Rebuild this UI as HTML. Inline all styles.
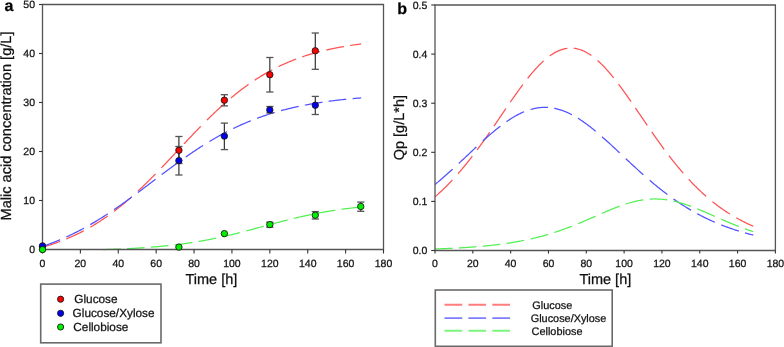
<!DOCTYPE html>
<html><head><meta charset="utf-8"><style>
html,body{margin:0;padding:0;background:#fff;width:784px;height:347px;overflow:hidden}
svg{display:block;will-change:transform}
text{font-family:"Liberation Sans",sans-serif;text-rendering:geometricPrecision;stroke:#111;stroke-width:0.25px}
</style></head><body>
<svg width="784" height="347" viewBox="0 0 784 347">
<rect width="784" height="347" fill="#fff"/>
<path d="M42.50,247.23 L43.35,246.98 L44.20,246.73 L45.05,246.48 L45.90,246.23 L46.75,245.97 L47.60,245.71 L48.45,245.44 L49.30,245.17 L50.15,244.90 L51.00,244.62 L51.85,244.34 L52.70,244.06 L53.55,243.77 L54.40,243.48 L55.25,243.19 L56.10,242.89 L56.95,242.58 L57.79,242.28 L58.64,241.97 L59.49,241.65 L60.13,241.41 M66.29,238.98 L67.14,238.63 L67.99,238.27 L68.84,237.91 L69.69,237.54 L70.54,237.17 L71.39,236.79 L72.24,236.41 L73.09,236.03 L73.94,235.64 L74.79,235.24 L75.64,234.84 L76.49,234.44 L77.34,234.03 L78.19,233.61 L79.04,233.20 L79.89,232.77 L80.74,232.34 L81.59,231.91 L82.44,231.47 L83.29,231.03 L83.92,230.69 M90.30,227.17 L91.15,226.68 L92.00,226.18 L92.85,225.68 L93.70,225.17 L94.55,224.65 L95.40,224.13 L96.24,223.61 L97.09,223.08 L97.94,222.54 L98.79,222.00 L99.64,221.46 L100.49,220.91 L101.34,220.35 L102.19,219.79 L103.04,219.22 L103.89,218.64 L104.74,218.06 L105.59,217.48 L106.44,216.89 L107.29,216.29 L107.72,215.99 M114.09,211.32 L114.94,210.67 L115.79,210.02 L116.64,209.36 L117.49,208.70 L118.34,208.03 L119.19,207.35 L120.04,206.67 L120.89,205.99 L121.74,205.30 L122.59,204.60 L123.44,203.90 L124.29,203.19 L125.14,202.48 L125.99,201.76 L126.83,201.04 L127.68,200.31 L128.53,199.58 L129.38,198.84 L130.23,198.10 L131.08,197.35 L131.72,196.79 M137.88,191.19 L138.73,190.40 L139.58,189.60 L140.43,188.80 L141.28,188.00 L142.13,187.19 L142.98,186.38 L143.83,185.56 L144.68,184.74 L145.53,183.91 L146.38,183.08 L147.23,182.25 L148.08,181.41 L148.93,180.57 L149.78,179.73 L150.63,178.88 L151.48,178.03 L152.33,177.17 L153.18,176.32 L154.03,175.46 L154.88,174.59 L155.51,173.94 M161.46,167.80 L162.31,166.91 L163.16,166.03 L164.01,165.13 L164.86,164.24 L165.71,163.35 L166.56,162.45 L167.41,161.55 L168.26,160.65 L169.11,159.75 L169.96,158.85 L170.81,157.95 L171.66,157.05 L172.51,156.14 L173.36,155.24 L174.21,154.33 L175.06,153.42 L175.91,152.52 L176.76,151.61 L177.61,150.70 L178.03,150.25 M183.98,143.91 L184.83,143.00 L185.68,142.10 L186.53,141.20 L187.38,140.30 L188.23,139.40 L189.08,138.50 L189.93,137.60 L190.78,136.71 L191.63,135.81 L192.48,134.92 L193.33,134.03 L194.18,133.14 L195.03,132.26 L195.87,131.37 L196.72,130.49 L197.57,129.62 L198.42,128.74 L199.27,127.87 L200.12,127.00 L200.76,126.34 M206.92,120.14 L207.77,119.30 L208.62,118.47 L209.47,117.63 L210.32,116.80 L211.17,115.97 L212.02,115.15 L212.87,114.34 L213.72,113.52 L214.57,112.71 L215.42,111.91 L216.27,111.11 L217.12,110.31 L217.97,109.52 L218.82,108.73 L219.67,107.95 L220.52,107.17 L221.37,106.39 L222.22,105.63 L223.07,104.86 L223.92,104.10 L224.55,103.54 M230.93,98.03 L231.78,97.32 L232.63,96.61 L233.47,95.91 L234.32,95.22 L235.17,94.53 L236.02,93.84 L236.87,93.16 L237.72,92.49 L238.57,91.82 L239.42,91.16 L240.27,90.50 L241.12,89.85 L241.97,89.20 L242.82,88.56 L243.67,87.93 L244.52,87.30 L245.37,86.67 L246.22,86.06 L247.07,85.44 L247.92,84.84 L248.56,84.38 M254.72,80.18 L255.57,79.62 L256.42,79.07 L257.27,78.52 L258.12,77.98 L258.97,77.45 L259.82,76.92 L260.67,76.40 L261.52,75.88 L262.37,75.36 L263.22,74.86 L264.06,74.35 L264.91,73.86 L265.76,73.36 L266.61,72.88 L267.46,72.40 L268.31,71.92 L269.16,71.45 L270.01,70.99 L270.86,70.52 L271.71,70.07 L272.35,69.73 M278.51,66.61 L279.36,66.20 L280.21,65.80 L281.06,65.40 L281.91,65.00 L282.76,64.61 L283.61,64.22 L284.46,63.84 L285.31,63.47 L286.16,63.10 L287.01,62.73 L287.86,62.36 L288.71,62.01 L289.56,61.65 L290.41,61.30 L291.26,60.96 L292.11,60.62 L292.96,60.28 L293.81,59.95 L294.65,59.62 L295.50,59.29 L296.14,59.05 M302.30,56.85 L303.15,56.56 L304.00,56.28 L304.85,55.99 L305.70,55.72 L306.55,55.44 L307.40,55.18 L308.25,54.91 L309.10,54.65 L309.95,54.39 L310.80,54.13 L311.65,53.88 L312.50,53.63 L313.35,53.39 L314.20,53.14 L315.05,52.91 L315.90,52.67 L316.75,52.44 L317.60,52.21 L318.45,51.98 L319.30,51.76 L319.93,51.60 M326.31,50.04 L327.16,49.84 L328.01,49.65 L328.86,49.46 L329.71,49.27 L330.56,49.09 L331.41,48.91 L332.26,48.73 L333.10,48.55 L333.95,48.38 L334.80,48.21 L335.65,48.04 L336.50,47.87 L337.35,47.70 L338.20,47.54 L339.05,47.38 L339.90,47.22 L340.75,47.07 L341.60,46.92 L342.45,46.77 L343.30,46.62 L343.94,46.51 M350.10,45.50 L350.95,45.37 L351.80,45.25 L352.65,45.12 L353.50,45.00 L354.35,44.87 L355.20,44.75 L356.05,44.63 L356.90,44.52 L357.75,44.40 L358.60,44.29 L359.45,44.17 L360.30,44.06 L361.15,43.95" fill="none" stroke="#ff5252" stroke-width="1.25"/>
<path d="M42.50,246.48 L43.35,246.19 L44.20,245.89 L45.05,245.59 L45.90,245.29 L46.75,244.98 L47.60,244.67 L48.45,244.36 L49.30,244.04 L50.15,243.72 L51.00,243.40 L51.85,243.07 L52.70,242.74 L53.55,242.40 L54.40,242.07 L55.25,241.73 L56.10,241.38 L56.95,241.04 L57.79,240.69 L58.64,240.33 L59.49,239.97 L60.13,239.70 M66.29,236.99 L67.14,236.60 L67.99,236.21 L68.84,235.81 L69.69,235.41 L70.54,235.00 L71.39,234.60 L72.24,234.19 L73.09,233.77 L73.94,233.35 L74.79,232.93 L75.64,232.51 L76.49,232.08 L77.34,231.64 L78.19,231.21 L79.04,230.77 L79.89,230.33 L80.74,229.88 L81.59,229.43 L82.44,228.97 L83.29,228.52 L83.92,228.17 M90.30,224.60 L91.15,224.11 L92.00,223.62 L92.85,223.12 L93.70,222.62 L94.55,222.12 L95.40,221.61 L96.24,221.10 L97.09,220.58 L97.94,220.06 L98.79,219.54 L99.64,219.02 L100.49,218.49 L101.34,217.96 L102.19,217.42 L103.04,216.89 L103.89,216.35 L104.74,215.80 L105.59,215.25 L106.44,214.70 L107.29,214.15 L107.72,213.87 M114.09,209.62 L114.94,209.04 L115.79,208.46 L116.64,207.88 L117.49,207.29 L118.34,206.70 L119.19,206.11 L120.04,205.52 L120.89,204.92 L121.74,204.32 L122.59,203.72 L123.44,203.12 L124.29,202.51 L125.14,201.90 L125.99,201.29 L126.83,200.68 L127.68,200.07 L128.53,199.45 L129.38,198.83 L130.23,198.21 L131.08,197.59 L131.72,197.13 M137.88,192.57 L138.73,191.94 L139.58,191.30 L140.43,190.67 L141.28,190.03 L142.13,189.39 L142.98,188.75 L143.83,188.11 L144.68,187.47 L145.53,186.83 L146.38,186.19 L147.23,185.55 L148.08,184.91 L148.93,184.26 L149.78,183.62 L150.63,182.98 L151.48,182.33 L152.33,181.69 L153.18,181.05 L154.03,180.40 L154.88,179.76 L155.51,179.28 M161.67,174.62 L162.52,173.98 L163.37,173.34 L164.22,172.70 L165.07,172.07 L165.92,171.43 L166.77,170.80 L167.62,170.16 L168.47,169.53 L169.32,168.90 L170.17,168.27 L171.02,167.64 L171.87,167.01 L172.72,166.39 L173.57,165.76 L174.42,165.14 L175.27,164.52 L176.12,163.90 L176.97,163.28 L177.82,162.66 L178.67,162.05 L179.31,161.59 M185.68,157.06 L186.53,156.47 L187.38,155.88 L188.23,155.29 L189.08,154.70 L189.93,154.12 L190.78,153.54 L191.63,152.96 L192.48,152.38 L193.33,151.81 L194.18,151.24 L195.03,150.67 L195.87,150.11 L196.72,149.55 L197.57,148.99 L198.42,148.43 L199.27,147.88 L200.12,147.33 L200.97,146.78 L201.82,146.24 L202.67,145.70 L203.10,145.43 M209.47,141.49 L210.32,140.98 L211.17,140.47 L212.02,139.97 L212.87,139.47 L213.72,138.97 L214.57,138.48 L215.42,137.99 L216.27,137.50 L217.12,137.02 L217.97,136.54 L218.82,136.06 L219.67,135.59 L220.52,135.12 L221.37,134.66 L222.22,134.19 L223.07,133.74 L223.92,133.28 L224.77,132.83 L225.61,132.38 L226.46,131.94 L227.10,131.61 M233.26,128.52 L234.11,128.11 L234.96,127.70 L235.81,127.29 L236.66,126.89 L237.51,126.50 L238.36,126.10 L239.21,125.71 L240.06,125.33 L240.91,124.94 L241.76,124.57 L242.61,124.19 L243.46,123.82 L244.31,123.45 L245.16,123.08 L246.01,122.72 L246.86,122.36 L247.71,122.01 L248.56,121.66 L249.41,121.31 L250.26,120.97 L250.89,120.71 M257.05,118.33 L257.90,118.02 L258.75,117.71 L259.60,117.40 L260.45,117.10 L261.30,116.80 L262.15,116.50 L263.00,116.20 L263.85,115.91 L264.70,115.62 L265.55,115.34 L266.40,115.06 L267.25,114.78 L268.10,114.50 L268.95,114.23 L269.80,113.96 L270.65,113.69 L271.50,113.43 L272.35,113.17 L273.20,112.91 L274.05,112.65 L274.69,112.46 M281.06,110.65 L281.91,110.42 L282.76,110.20 L283.61,109.97 L284.46,109.75 L285.31,109.53 L286.16,109.32 L287.01,109.10 L287.86,108.89 L288.71,108.68 L289.56,108.48 L290.41,108.27 L291.26,108.07 L292.11,107.87 L292.96,107.68 L293.81,107.48 L294.65,107.29 L295.50,107.10 L296.35,106.91 L297.20,106.73 L298.05,106.55 L298.69,106.41 M304.85,105.16 L305.70,105.00 L306.55,104.84 L307.40,104.68 L308.25,104.52 L309.10,104.37 L309.95,104.22 L310.80,104.06 L311.65,103.91 L312.50,103.77 L313.35,103.62 L314.20,103.48 L315.05,103.34 L315.90,103.20 L316.75,103.06 L317.60,102.92 L318.45,102.79 L319.30,102.65 L320.15,102.52 L321.00,102.39 L321.85,102.27 L322.48,102.17 M328.64,101.30 L329.49,101.19 L330.34,101.08 L331.19,100.96 L332.04,100.86 L332.89,100.75 L333.74,100.64 L334.59,100.54 L335.44,100.43 L336.29,100.33 L337.14,100.23 L337.99,100.13 L338.84,100.03 L339.69,99.94 L340.54,99.84 L341.39,99.75 L342.24,99.65 L343.09,99.56 L343.94,99.47 L344.79,99.38 L345.64,99.29 L346.28,99.23 M352.65,98.61 L353.50,98.53 L354.35,98.46 L355.20,98.38 L356.05,98.31 L356.90,98.23 L357.75,98.16 L358.60,98.09 L359.45,98.02 L360.30,97.95 L361.15,97.88" fill="none" stroke="#5252ff" stroke-width="1.25"/>
<path d="M103.12,249.50 L103.98,249.50 L104.84,249.50 L105.70,249.50 L106.56,249.48 L107.42,249.46 L108.28,249.43 L109.14,249.40 L110.00,249.37 L110.86,249.34 L111.72,249.31 L112.58,249.28 L113.44,249.25 L114.30,249.22 L115.16,249.18 L116.02,249.15 L116.88,249.12 L117.74,249.08 L118.60,249.05 L119.46,249.01 L120.32,248.98 L120.75,248.96 M126.99,248.67 L127.85,248.63 L128.71,248.59 L129.57,248.54 L130.43,248.50 L131.29,248.46 L132.15,248.41 L133.01,248.36 L133.87,248.32 L134.73,248.27 L135.59,248.22 L136.45,248.17 L137.31,248.12 L138.17,248.07 L139.03,248.01 L139.89,247.96 L140.75,247.91 L141.61,247.85 L142.47,247.79 L143.33,247.74 L144.19,247.68 L144.62,247.65 M150.86,247.20 L151.72,247.13 L152.58,247.06 L153.44,246.99 L154.30,246.92 L155.16,246.85 L156.02,246.78 L156.88,246.70 L157.74,246.63 L158.60,246.55 L159.46,246.48 L160.32,246.40 L161.18,246.32 L162.04,246.24 L162.90,246.16 L163.76,246.07 L164.62,245.99 L165.48,245.90 L166.34,245.81 L167.20,245.73 L168.06,245.64 L168.49,245.59 M174.72,244.89 L175.58,244.79 L176.44,244.69 L177.30,244.58 L178.16,244.47 L179.02,244.37 L179.88,244.26 L180.74,244.15 L181.60,244.03 L182.46,243.92 L183.32,243.80 L184.18,243.69 L185.04,243.57 L185.90,243.45 L186.76,243.32 L187.62,243.20 L188.48,243.07 L189.35,242.95 L190.21,242.82 L191.07,242.69 L191.93,242.56 L192.36,242.49 M198.59,241.48 L199.45,241.33 L200.31,241.18 L201.17,241.03 L202.03,240.88 L202.89,240.73 L203.75,240.57 L204.61,240.42 L205.47,240.26 L206.33,240.10 L207.19,239.93 L208.05,239.77 L208.91,239.60 L209.77,239.44 L210.63,239.27 L211.49,239.10 L212.35,238.93 L213.21,238.75 L214.07,238.58 L214.93,238.40 L215.79,238.22 L216.22,238.13 M222.46,236.78 L223.32,236.59 L224.18,236.39 L225.04,236.20 L225.90,236.00 L226.76,235.80 L227.62,235.60 L228.48,235.40 L229.34,235.20 L230.20,234.99 L231.06,234.79 L231.92,234.58 L232.78,234.37 L233.64,234.16 L234.50,233.95 L235.36,233.74 L236.22,233.52 L237.08,233.31 L237.94,233.09 L238.80,232.88 L239.66,232.66 L239.87,232.60 M246.33,230.94 L247.19,230.71 L248.05,230.48 L248.91,230.26 L249.77,230.03 L250.63,229.80 L251.49,229.57 L252.35,229.34 L253.21,229.11 L254.07,228.88 L254.93,228.65 L255.79,228.42 L256.65,228.19 L257.51,227.95 L258.37,227.72 L259.23,227.49 L260.09,227.26 L260.95,227.02 L261.81,226.79 L262.67,226.56 L263.53,226.32 L263.74,226.26 M269.98,224.58 L270.84,224.35 L271.70,224.11 L272.56,223.88 L273.42,223.65 L274.28,223.42 L275.14,223.19 L276.00,222.97 L276.86,222.74 L277.72,222.51 L278.58,222.28 L279.44,222.06 L280.30,221.83 L281.16,221.61 L282.02,221.39 L282.88,221.16 L283.74,220.94 L284.60,220.72 L285.46,220.50 L286.32,220.28 L287.18,220.06 L287.61,219.96 M293.84,218.42 L294.70,218.21 L295.56,218.00 L296.42,217.80 L297.28,217.60 L298.14,217.39 L299.00,217.19 L299.87,217.00 L300.73,216.80 L301.59,216.60 L302.45,216.41 L303.31,216.22 L304.17,216.02 L305.03,215.83 L305.89,215.65 L306.75,215.46 L307.61,215.28 L308.47,215.09 L309.33,214.91 L310.19,214.73 L311.05,214.55 L311.48,214.46 M317.71,213.23 L318.57,213.06 L319.43,212.90 L320.29,212.74 L321.15,212.58 L322.01,212.42 L322.87,212.27 L323.73,212.11 L324.59,211.96 L325.45,211.81 L326.31,211.66 L327.17,211.52 L328.03,211.37 L328.89,211.23 L329.75,211.09 L330.61,210.95 L331.47,210.81 L332.33,210.67 L333.19,210.54 L334.05,210.41 L334.91,210.27 L335.34,210.21 M341.58,209.31 L342.44,209.19 L343.30,209.08 L344.16,208.96 L345.02,208.85 L345.88,208.74 L346.74,208.63 L347.60,208.52 L348.46,208.41 L349.32,208.31 L350.18,208.21 L351.04,208.10 L351.90,208.00 L352.76,207.90 L353.62,207.81 L354.48,207.71 L355.34,207.61 L356.20,207.52 L357.06,207.43 L357.92,207.34 L358.78,207.25 L359.21,207.20" fill="none" stroke="#52f052" stroke-width="1.25"/>
<path d="M42.5,4.5 H383.5 V249.5 H42.5 Z" fill="none" stroke="#555" stroke-width="1.3"/>
<line x1="39" y1="249.5" x2="42.5" y2="249.5" stroke="#333" stroke-width="1.1"/>
<text x="35" y="253.3" font-family="Liberation Sans, sans-serif" font-size="10.5" text-anchor="end" fill="#111">0</text>
<line x1="39" y1="200.5" x2="42.5" y2="200.5" stroke="#333" stroke-width="1.1"/>
<text x="35" y="204.3" font-family="Liberation Sans, sans-serif" font-size="10.5" text-anchor="end" fill="#111">10</text>
<line x1="39" y1="151.5" x2="42.5" y2="151.5" stroke="#333" stroke-width="1.1"/>
<text x="35" y="155.3" font-family="Liberation Sans, sans-serif" font-size="10.5" text-anchor="end" fill="#111">20</text>
<line x1="39" y1="102.5" x2="42.5" y2="102.5" stroke="#333" stroke-width="1.1"/>
<text x="35" y="106.3" font-family="Liberation Sans, sans-serif" font-size="10.5" text-anchor="end" fill="#111">30</text>
<line x1="39" y1="53.5" x2="42.5" y2="53.5" stroke="#333" stroke-width="1.1"/>
<text x="35" y="57.3" font-family="Liberation Sans, sans-serif" font-size="10.5" text-anchor="end" fill="#111">40</text>
<line x1="39" y1="4.5" x2="42.5" y2="4.5" stroke="#333" stroke-width="1.1"/>
<text x="35" y="8.3" font-family="Liberation Sans, sans-serif" font-size="10.5" text-anchor="end" fill="#111">50</text>
<line x1="42.50" y1="249.5" x2="42.50" y2="253.5" stroke="#333" stroke-width="1.1"/>
<text x="42.50" y="266.6" font-family="Liberation Sans, sans-serif" font-size="10.5" text-anchor="middle" fill="#111">0</text>
<line x1="80.39" y1="249.5" x2="80.39" y2="253.5" stroke="#333" stroke-width="1.1"/>
<text x="80.39" y="266.6" font-family="Liberation Sans, sans-serif" font-size="10.5" text-anchor="middle" fill="#111">20</text>
<line x1="118.28" y1="249.5" x2="118.28" y2="253.5" stroke="#333" stroke-width="1.1"/>
<text x="118.28" y="266.6" font-family="Liberation Sans, sans-serif" font-size="10.5" text-anchor="middle" fill="#111">40</text>
<line x1="156.17" y1="249.5" x2="156.17" y2="253.5" stroke="#333" stroke-width="1.1"/>
<text x="156.17" y="266.6" font-family="Liberation Sans, sans-serif" font-size="10.5" text-anchor="middle" fill="#111">60</text>
<line x1="194.06" y1="249.5" x2="194.06" y2="253.5" stroke="#333" stroke-width="1.1"/>
<text x="194.06" y="266.6" font-family="Liberation Sans, sans-serif" font-size="10.5" text-anchor="middle" fill="#111">80</text>
<line x1="231.94" y1="249.5" x2="231.94" y2="253.5" stroke="#333" stroke-width="1.1"/>
<text x="231.94" y="266.6" font-family="Liberation Sans, sans-serif" font-size="10.5" text-anchor="middle" fill="#111">100</text>
<line x1="269.83" y1="249.5" x2="269.83" y2="253.5" stroke="#333" stroke-width="1.1"/>
<text x="269.83" y="266.6" font-family="Liberation Sans, sans-serif" font-size="10.5" text-anchor="middle" fill="#111">120</text>
<line x1="307.72" y1="249.5" x2="307.72" y2="253.5" stroke="#333" stroke-width="1.1"/>
<text x="307.72" y="266.6" font-family="Liberation Sans, sans-serif" font-size="10.5" text-anchor="middle" fill="#111">140</text>
<line x1="345.61" y1="249.5" x2="345.61" y2="253.5" stroke="#333" stroke-width="1.1"/>
<text x="345.61" y="266.6" font-family="Liberation Sans, sans-serif" font-size="10.5" text-anchor="middle" fill="#111">160</text>
<line x1="383.50" y1="249.5" x2="383.50" y2="253.5" stroke="#333" stroke-width="1.1"/>
<text x="383.50" y="266.6" font-family="Liberation Sans, sans-serif" font-size="10.5" text-anchor="middle" fill="#111">180</text>
<line x1="178.90" y1="136.50" x2="178.90" y2="163.50" stroke="#333" stroke-width="1.2"/><line x1="175.30" y1="136.50" x2="182.50" y2="136.50" stroke="#555" stroke-width="1.3"/><line x1="175.30" y1="163.50" x2="182.50" y2="163.50" stroke="#555" stroke-width="1.3"/>
<line x1="224.37" y1="94.70" x2="224.37" y2="105.90" stroke="#333" stroke-width="1.2"/><line x1="220.77" y1="94.70" x2="227.97" y2="94.70" stroke="#555" stroke-width="1.3"/><line x1="220.77" y1="105.90" x2="227.97" y2="105.90" stroke="#555" stroke-width="1.3"/>
<line x1="269.83" y1="57.50" x2="269.83" y2="92.00" stroke="#333" stroke-width="1.2"/><line x1="266.23" y1="57.50" x2="273.43" y2="57.50" stroke="#555" stroke-width="1.3"/><line x1="266.23" y1="92.00" x2="273.43" y2="92.00" stroke="#555" stroke-width="1.3"/>
<line x1="315.30" y1="33.00" x2="315.30" y2="69.30" stroke="#333" stroke-width="1.2"/><line x1="311.70" y1="33.00" x2="318.90" y2="33.00" stroke="#555" stroke-width="1.3"/><line x1="311.70" y1="69.30" x2="318.90" y2="69.30" stroke="#555" stroke-width="1.3"/>
<line x1="178.90" y1="146.50" x2="178.90" y2="175.00" stroke="#333" stroke-width="1.2"/><line x1="175.30" y1="146.50" x2="182.50" y2="146.50" stroke="#555" stroke-width="1.3"/><line x1="175.30" y1="175.00" x2="182.50" y2="175.00" stroke="#555" stroke-width="1.3"/>
<line x1="224.37" y1="123.10" x2="224.37" y2="149.60" stroke="#333" stroke-width="1.2"/><line x1="220.77" y1="123.10" x2="227.97" y2="123.10" stroke="#555" stroke-width="1.3"/><line x1="220.77" y1="149.60" x2="227.97" y2="149.60" stroke="#555" stroke-width="1.3"/>
<line x1="269.83" y1="106.50" x2="269.83" y2="113.00" stroke="#333" stroke-width="1.2"/><line x1="266.23" y1="106.50" x2="273.43" y2="106.50" stroke="#555" stroke-width="1.3"/><line x1="266.23" y1="113.00" x2="273.43" y2="113.00" stroke="#555" stroke-width="1.3"/>
<line x1="315.30" y1="96.40" x2="315.30" y2="114.50" stroke="#333" stroke-width="1.2"/><line x1="311.70" y1="96.40" x2="318.90" y2="96.40" stroke="#555" stroke-width="1.3"/><line x1="311.70" y1="114.50" x2="318.90" y2="114.50" stroke="#555" stroke-width="1.3"/>
<line x1="269.83" y1="222.20" x2="269.83" y2="227.20" stroke="#333" stroke-width="1.2"/><line x1="266.23" y1="222.20" x2="273.43" y2="222.20" stroke="#555" stroke-width="1.3"/><line x1="266.23" y1="227.20" x2="273.43" y2="227.20" stroke="#555" stroke-width="1.3"/>
<line x1="315.30" y1="211.60" x2="315.30" y2="219.00" stroke="#333" stroke-width="1.2"/><line x1="311.70" y1="211.60" x2="318.90" y2="211.60" stroke="#555" stroke-width="1.3"/><line x1="311.70" y1="219.00" x2="318.90" y2="219.00" stroke="#555" stroke-width="1.3"/>
<line x1="360.77" y1="202.10" x2="360.77" y2="211.30" stroke="#333" stroke-width="1.2"/><line x1="357.17" y1="202.10" x2="364.37" y2="202.10" stroke="#555" stroke-width="1.3"/><line x1="357.17" y1="211.30" x2="364.37" y2="211.30" stroke="#555" stroke-width="1.3"/>
<circle cx="42.50" cy="246.80" r="3.2" fill="#ff0000" stroke="#1a1a1a" stroke-width="0.9"/>
<circle cx="178.90" cy="150.30" r="3.2" fill="#ff0000" stroke="#1a1a1a" stroke-width="0.9"/>
<circle cx="224.37" cy="100.20" r="3.2" fill="#ff0000" stroke="#1a1a1a" stroke-width="0.9"/>
<circle cx="269.83" cy="74.70" r="3.2" fill="#ff0000" stroke="#1a1a1a" stroke-width="0.9"/>
<circle cx="315.30" cy="50.80" r="3.2" fill="#ff0000" stroke="#1a1a1a" stroke-width="0.9"/>
<circle cx="42.50" cy="245.90" r="3.2" fill="#0000f0" stroke="#1a1a1a" stroke-width="0.9"/>
<circle cx="178.90" cy="160.60" r="3.2" fill="#0000f0" stroke="#1a1a1a" stroke-width="0.9"/>
<circle cx="224.37" cy="136.10" r="3.2" fill="#0000f0" stroke="#1a1a1a" stroke-width="0.9"/>
<circle cx="269.83" cy="109.90" r="3.2" fill="#0000f0" stroke="#1a1a1a" stroke-width="0.9"/>
<circle cx="315.30" cy="105.20" r="3.2" fill="#0000f0" stroke="#1a1a1a" stroke-width="0.9"/>
<circle cx="42.50" cy="249.60" r="3.2" fill="#00f000" stroke="#1a1a1a" stroke-width="0.9"/>
<circle cx="178.90" cy="247.10" r="3.2" fill="#00f000" stroke="#1a1a1a" stroke-width="0.9"/>
<circle cx="224.37" cy="233.60" r="3.2" fill="#00f000" stroke="#1a1a1a" stroke-width="0.9"/>
<circle cx="269.83" cy="224.60" r="3.2" fill="#00f000" stroke="#1a1a1a" stroke-width="0.9"/>
<circle cx="315.30" cy="215.20" r="3.2" fill="#00f000" stroke="#1a1a1a" stroke-width="0.9"/>
<circle cx="360.77" cy="206.50" r="3.2" fill="#00f000" stroke="#1a1a1a" stroke-width="0.9"/>
<text x="185.5" y="284" font-family="Liberation Sans, sans-serif" font-size="14.5" fill="#111">Time [h]</text>
<text transform="translate(11.3,220.5) rotate(-90)" font-family="Liberation Sans, sans-serif" font-size="14.6" fill="#111">Malic acid concentration [g/L]</text>
<text x="4.6" y="10.6" font-family="Liberation Sans, sans-serif" font-weight="bold" font-size="16" fill="#000">a</text>
<rect x="40.7" y="284.1" width="120.3" height="58.7" fill="none" stroke="#6a6a6a" stroke-width="1.6"/>
<circle cx="60.6" cy="299.2" r="3.1" fill="#ff0000" stroke="#1a1a1a" stroke-width="0.9"/>
<text x="74.3" y="303.2" font-family="Liberation Sans, sans-serif" font-size="11.8" fill="#111">Glucose</text>
<circle cx="60.6" cy="313.3" r="3.1" fill="#0000f0" stroke="#1a1a1a" stroke-width="0.9"/>
<text x="72.6" y="317.2" font-family="Liberation Sans, sans-serif" font-size="11.8" fill="#111">Glucose/Xylose</text>
<circle cx="60.6" cy="327.0" r="3.1" fill="#00f000" stroke="#1a1a1a" stroke-width="0.9"/>
<text x="73.3" y="330.8" font-family="Liberation Sans, sans-serif" font-size="11.8" fill="#111">Cellobiose</text>
<path d="M435.00,196.86 L435.85,196.11 L436.70,195.36 L437.55,194.60 L438.39,193.84 L439.24,193.07 L440.09,192.28 L440.94,191.49 L441.79,190.69 L442.64,189.88 L443.49,189.06 L444.34,188.24 L445.18,187.40 L446.03,186.56 L446.88,185.70 L447.73,184.84 L448.58,183.97 L449.43,183.10 L450.28,182.21 L451.13,181.31 L451.97,180.41 L452.40,179.95 M457.99,173.76 L458.69,172.95 L459.40,172.13 L460.11,171.31 L460.82,170.48 L461.52,169.65 L462.23,168.81 L462.94,167.96 L463.64,167.11 L464.35,166.25 L465.06,165.39 L465.77,164.52 L466.47,163.65 L467.18,162.77 L467.89,161.88 L468.60,160.99 L469.30,160.10 L470.01,159.20 L470.72,158.29 L471.42,157.38 L472.13,156.46 L472.31,156.23 M477.13,149.84 L477.74,149.02 L478.35,148.20 L478.95,147.37 L479.56,146.54 L480.16,145.71 L480.77,144.88 L481.38,144.04 L481.98,143.20 L482.59,142.35 L483.20,141.51 L483.80,140.66 L484.41,139.81 L485.01,138.95 L485.62,138.10 L486.23,137.24 L486.83,136.37 L487.44,135.51 L488.05,134.64 L488.65,133.77 L489.26,132.90 L489.71,132.25 M493.96,126.10 L494.56,125.21 L495.17,124.33 L495.78,123.44 L496.38,122.55 L496.99,121.66 L497.59,120.77 L498.20,119.88 L498.81,118.99 L499.41,118.10 L500.02,117.21 L500.63,116.32 L501.23,115.42 L501.84,114.53 L502.44,113.64 L503.05,112.75 L503.66,111.86 L504.26,110.97 L504.87,110.08 L505.47,109.19 L505.93,108.52 M510.32,102.11 L510.93,101.24 L511.54,100.36 L512.14,99.49 L512.75,98.62 L513.36,97.75 L513.96,96.89 L514.57,96.02 L515.17,95.17 L515.78,94.31 L516.39,93.46 L516.99,92.61 L517.60,91.76 L518.21,90.92 L518.81,90.08 L519.42,89.25 L520.02,88.42 L520.63,87.59 L521.24,86.77 L521.84,85.95 L522.45,85.14 L522.90,84.53 M527.65,78.38 L528.36,77.49 L529.07,76.62 L529.77,75.75 L530.48,74.89 L531.19,74.05 L531.90,73.21 L532.60,72.38 L533.31,71.56 L534.02,70.75 L534.73,69.95 L535.57,69.01 L536.42,68.08 L537.27,67.17 L538.12,66.28 L538.97,65.40 L539.82,64.54 L540.67,63.70 L541.52,62.88 L542.36,62.08 L543.21,61.29 L543.64,60.91 M549.79,55.90 L550.64,55.30 L551.49,54.72 L552.34,54.17 L553.19,53.63 L554.03,53.12 L554.88,52.63 L555.73,52.17 L556.58,51.74 L557.43,51.32 L558.28,50.93 L559.13,50.56 L559.98,50.22 L560.82,49.91 L561.67,49.61 L562.52,49.35 L563.37,49.10 L564.22,48.89 L565.07,48.70 L565.92,48.54 L566.77,48.40 L567.40,48.31 M573.77,48.25 L574.62,48.35 L575.46,48.48 L576.31,48.63 L577.16,48.81 L578.01,49.02 L578.86,49.25 L579.71,49.50 L580.56,49.78 L581.41,50.09 L582.25,50.42 L583.10,50.78 L583.95,51.16 L584.80,51.56 L585.65,51.99 L586.50,52.45 L587.35,52.93 L588.20,53.43 L589.04,53.95 L589.89,54.49 L590.74,55.07 L591.38,55.51 M597.53,60.41 L598.38,61.17 L599.23,61.96 L600.08,62.76 L600.93,63.58 L601.78,64.41 L602.62,65.27 L603.47,66.14 L604.32,67.04 L605.17,67.94 L606.02,68.87 L606.87,69.81 L607.72,70.76 L608.46,71.61 L609.17,72.43 L609.87,73.26 L610.58,74.10 L611.29,74.95 L612.00,75.81 L612.70,76.68 L613.41,77.56 L613.59,77.78 M618.54,84.16 L619.14,84.97 L619.75,85.78 L620.36,86.59 L620.96,87.41 L621.57,88.24 L622.18,89.07 L622.78,89.90 L623.39,90.74 L623.99,91.58 L624.60,92.43 L625.21,93.28 L625.81,94.13 L626.42,94.98 L627.03,95.84 L627.63,96.70 L628.24,97.57 L628.84,98.44 L629.45,99.31 L630.06,100.18 L630.66,101.05 L631.12,101.71 M635.36,107.89 L635.97,108.78 L636.57,109.66 L637.18,110.55 L637.79,111.44 L638.39,112.34 L639.00,113.23 L639.60,114.12 L640.21,115.01 L640.82,115.90 L641.42,116.79 L642.03,117.69 L642.64,118.58 L643.24,119.47 L643.85,120.36 L644.45,121.25 L645.06,122.14 L645.67,123.03 L646.27,123.92 L646.88,124.80 L647.33,125.47 M651.73,131.85 L652.34,132.72 L652.94,133.59 L653.55,134.46 L654.15,135.33 L654.76,136.19 L655.37,137.05 L655.97,137.91 L656.58,138.77 L657.19,139.63 L657.79,140.48 L658.40,141.33 L659.00,142.18 L659.61,143.02 L660.22,143.86 L660.82,144.70 L661.43,145.53 L662.04,146.37 L662.64,147.20 L663.25,148.02 L663.85,148.84 L664.16,149.26 M668.93,155.60 L669.64,156.52 L670.35,157.44 L671.05,158.35 L671.76,159.26 L672.47,160.16 L673.18,161.05 L673.88,161.94 L674.59,162.83 L675.30,163.71 L676.00,164.58 L676.71,165.45 L677.42,166.31 L678.13,167.17 L678.83,168.02 L679.54,168.86 L680.25,169.70 L680.96,170.54 L681.66,171.36 L682.37,172.19 L683.08,173.00 L683.25,173.21 M688.77,179.36 L689.62,180.27 L690.47,181.18 L691.32,182.07 L692.17,182.96 L693.01,183.84 L693.86,184.71 L694.71,185.57 L695.56,186.43 L696.41,187.27 L697.26,188.11 L698.11,188.94 L698.96,189.76 L699.80,190.57 L700.65,191.37 L701.50,192.16 L702.35,192.95 L703.20,193.72 L704.05,194.49 L704.90,195.25 L705.75,196.00 L706.17,196.37 M712.53,201.71 L713.38,202.39 L714.23,203.06 L715.08,203.72 L715.93,204.37 L716.78,205.02 L717.63,205.66 L718.48,206.29 L719.32,206.91 L720.17,207.53 L721.02,208.13 L721.87,208.73 L722.72,209.33 L723.57,209.91 L724.42,210.49 L725.27,211.06 L726.11,211.62 L726.96,212.18 L727.81,212.73 L728.66,213.27 L729.51,213.81 L729.93,214.07 M736.30,217.85 L737.15,218.33 L738.00,218.80 L738.85,219.26 L739.69,219.72 L740.54,220.17 L741.39,220.62 L742.24,221.05 L743.09,221.49 L743.94,221.92 L744.79,222.34 L745.64,222.75 L746.48,223.16 L747.33,223.57 L748.18,223.97 L749.03,224.36 L749.88,224.75 L750.73,225.13 L751.58,225.51 L752.43,225.88 L753.27,226.25" fill="none" stroke="#ff5252" stroke-width="1.25"/>
<path d="M435.00,184.50 L435.85,183.79 L436.70,183.08 L437.55,182.37 L438.39,181.65 L439.24,180.93 L440.09,180.21 L440.94,179.48 L441.79,178.75 L442.64,178.01 L443.49,177.27 L444.34,176.53 L445.18,175.78 L446.03,175.03 L446.88,174.28 L447.73,173.52 L448.58,172.76 L449.43,172.00 L450.28,171.23 L451.13,170.47 L451.97,169.69 L452.61,169.11 M458.76,163.44 L459.61,162.65 L460.46,161.86 L461.31,161.07 L462.16,160.27 L463.01,159.48 L463.86,158.68 L464.71,157.88 L465.55,157.09 L466.40,156.29 L467.25,155.49 L468.10,154.69 L468.95,153.89 L469.80,153.10 L470.65,152.30 L471.50,151.50 L472.34,150.71 L473.19,149.91 L474.04,149.12 L474.89,148.33 L475.74,147.53 L476.38,146.94 M482.74,141.09 L483.59,140.32 L484.44,139.56 L485.29,138.80 L486.14,138.04 L486.98,137.29 L487.83,136.54 L488.68,135.80 L489.53,135.06 L490.38,134.33 L491.23,133.60 L492.08,132.88 L492.93,132.16 L493.77,131.45 L494.62,130.75 L495.47,130.05 L496.32,129.36 L497.17,128.68 L498.02,128.00 L498.87,127.33 L499.72,126.67 L500.35,126.18 M506.51,121.66 L507.35,121.08 L508.20,120.50 L509.05,119.94 L509.90,119.38 L510.75,118.84 L511.60,118.30 L512.45,117.78 L513.30,117.27 L514.14,116.77 L514.99,116.27 L515.84,115.80 L516.69,115.33 L517.54,114.87 L518.39,114.43 L519.24,114.00 L520.09,113.58 L520.93,113.17 L521.78,112.78 L522.63,112.40 L523.48,112.03 L524.12,111.76 M530.48,109.50 L531.33,109.26 L532.18,109.03 L533.03,108.82 L533.88,108.62 L534.73,108.44 L535.57,108.27 L536.42,108.11 L537.27,107.97 L538.12,107.85 L538.97,107.73 L539.82,107.64 L540.67,107.56 L541.52,107.49 L542.36,107.44 L543.21,107.40 L544.06,107.38 L544.91,107.38 L545.76,107.39 L546.61,107.41 L547.46,107.45 L548.09,107.49 M554.25,108.30 L555.10,108.47 L555.94,108.65 L556.79,108.86 L557.64,109.07 L558.49,109.31 L559.34,109.55 L560.19,109.81 L561.04,110.08 L561.89,110.37 L562.73,110.67 L563.58,110.98 L564.43,111.31 L565.28,111.65 L566.13,112.00 L566.98,112.37 L567.83,112.75 L568.68,113.14 L569.52,113.55 L570.37,113.97 L571.22,114.40 L571.86,114.73 M578.01,118.27 L578.86,118.80 L579.71,119.35 L580.56,119.90 L581.41,120.46 L582.25,121.04 L583.10,121.62 L583.95,122.22 L584.80,122.82 L585.65,123.43 L586.50,124.05 L587.35,124.68 L588.20,125.32 L589.04,125.97 L589.89,126.62 L590.74,127.28 L591.59,127.95 L592.44,128.63 L593.29,129.31 L594.14,130.00 L594.99,130.70 L595.62,131.23 M601.99,136.68 L602.84,137.43 L603.69,138.18 L604.53,138.94 L605.38,139.70 L606.23,140.46 L607.08,141.23 L607.93,142.00 L608.78,142.78 L609.63,143.56 L610.48,144.34 L611.32,145.12 L612.17,145.90 L613.02,146.69 L613.87,147.48 L614.72,148.27 L615.57,149.06 L616.42,149.86 L617.26,150.65 L618.11,151.45 L618.96,152.24 L619.60,152.84 M625.75,158.63 L626.60,159.42 L627.45,160.22 L628.30,161.01 L629.15,161.80 L630.00,162.60 L630.84,163.39 L631.69,164.18 L632.54,164.96 L633.39,165.75 L634.24,166.53 L635.09,167.31 L635.94,168.09 L636.79,168.87 L637.63,169.64 L638.48,170.41 L639.33,171.18 L640.18,171.95 L641.03,172.71 L641.88,173.47 L642.73,174.23 L643.36,174.79 M649.73,180.34 L650.58,181.06 L651.43,181.78 L652.28,182.50 L653.12,183.21 L653.97,183.92 L654.82,184.62 L655.67,185.32 L656.52,186.01 L657.37,186.71 L658.22,187.39 L659.06,188.07 L659.91,188.75 L660.76,189.42 L661.61,190.09 L662.46,190.75 L663.31,191.41 L664.16,192.06 L665.01,192.71 L665.85,193.36 L666.70,194.00 L667.34,194.47 M673.49,198.93 L674.34,199.53 L675.19,200.12 L676.04,200.70 L676.89,201.29 L677.74,201.86 L678.59,202.43 L679.43,202.99 L680.28,203.56 L681.13,204.11 L681.98,204.66 L682.83,205.21 L683.68,205.75 L684.53,206.28 L685.38,206.81 L686.22,207.34 L687.07,207.86 L687.92,208.37 L688.77,208.88 L689.62,209.39 L690.47,209.89 L691.10,210.26 M697.26,213.72 L698.11,214.17 L698.96,214.62 L699.80,215.07 L700.65,215.52 L701.50,215.95 L702.35,216.39 L703.20,216.82 L704.05,217.24 L704.90,217.66 L705.75,218.08 L706.59,218.49 L707.44,218.89 L708.29,219.30 L709.14,219.69 L709.99,220.09 L710.84,220.48 L711.69,220.86 L712.53,221.24 L713.38,221.62 L714.23,221.99 L714.87,222.26 M721.23,224.90 L722.08,225.23 L722.93,225.56 L723.78,225.89 L724.63,226.21 L725.48,226.53 L726.33,226.84 L727.18,227.16 L728.02,227.46 L728.87,227.77 L729.72,228.07 L730.57,228.36 L731.42,228.66 L732.27,228.95 L733.12,229.23 L733.97,229.52 L734.81,229.79 L735.66,230.07 L736.51,230.34 L737.36,230.61 L738.21,230.88 L738.85,231.07 M745.00,232.89 L745.85,233.13 L746.70,233.36 L747.55,233.59 L748.39,233.82 L749.24,234.05 L750.09,234.27 L750.94,234.49 L751.79,234.71 L752.64,234.92 L753.27,235.08" fill="none" stroke="#5252ff" stroke-width="1.25"/>
<path d="M435.00,248.96 L435.85,248.93 L436.70,248.91 L437.55,248.88 L438.39,248.85 L439.24,248.81 L440.09,248.78 L440.94,248.75 L441.79,248.72 L442.64,248.68 L443.49,248.65 L444.34,248.62 L445.18,248.58 L446.03,248.55 L446.88,248.51 L447.73,248.47 L448.58,248.43 L449.43,248.40 L450.28,248.36 L451.13,248.32 L451.97,248.28 L452.61,248.24 M458.76,247.92 L459.61,247.88 L460.46,247.83 L461.31,247.78 L462.16,247.73 L463.01,247.68 L463.86,247.62 L464.71,247.57 L465.55,247.52 L466.40,247.46 L467.25,247.40 L468.10,247.35 L468.95,247.29 L469.80,247.23 L470.65,247.17 L471.50,247.11 L472.34,247.05 L473.19,246.98 L474.04,246.92 L474.89,246.85 L475.74,246.79 L476.38,246.74 M482.74,246.19 L483.59,246.11 L484.44,246.03 L485.29,245.95 L486.14,245.87 L486.98,245.78 L487.83,245.70 L488.68,245.61 L489.53,245.52 L490.38,245.43 L491.23,245.34 L492.08,245.25 L492.93,245.15 L493.77,245.06 L494.62,244.96 L495.47,244.86 L496.32,244.76 L497.17,244.66 L498.02,244.55 L498.87,244.44 L499.72,244.34 L500.35,244.25 M506.51,243.41 L507.35,243.28 L508.20,243.15 L509.05,243.02 L509.90,242.89 L510.75,242.76 L511.60,242.62 L512.45,242.49 L513.30,242.35 L514.14,242.20 L514.99,242.06 L515.84,241.91 L516.69,241.76 L517.54,241.61 L518.39,241.46 L519.24,241.30 L520.09,241.15 L520.93,240.99 L521.78,240.82 L522.63,240.66 L523.48,240.49 L524.12,240.36 M530.48,239.00 L531.33,238.81 L532.18,238.62 L533.03,238.42 L533.88,238.22 L534.73,238.01 L535.57,237.81 L536.42,237.60 L537.27,237.39 L538.12,237.17 L538.97,236.95 L539.82,236.73 L540.67,236.51 L541.52,236.28 L542.36,236.05 L543.21,235.82 L544.06,235.59 L544.91,235.35 L545.76,235.11 L546.61,234.86 L547.46,234.62 L548.09,234.43 M554.25,232.53 L555.10,232.25 L555.94,231.97 L556.79,231.69 L557.64,231.41 L558.49,231.12 L559.34,230.83 L560.19,230.54 L561.04,230.24 L561.89,229.94 L562.73,229.64 L563.58,229.34 L564.43,229.03 L565.28,228.72 L566.13,228.41 L566.98,228.09 L567.83,227.77 L568.68,227.45 L569.52,227.13 L570.37,226.80 L571.22,226.47 L571.86,226.22 M578.01,223.75 L578.86,223.40 L579.71,223.04 L580.56,222.69 L581.41,222.33 L582.25,221.97 L583.10,221.61 L583.95,221.25 L584.80,220.89 L585.65,220.53 L586.50,220.16 L587.35,219.79 L588.20,219.42 L589.04,219.05 L589.89,218.68 L590.74,218.31 L591.59,217.94 L592.44,217.57 L593.29,217.20 L594.14,216.82 L594.99,216.45 L595.62,216.17 M601.99,213.38 L602.84,213.01 L603.69,212.64 L604.53,212.27 L605.38,211.91 L606.23,211.54 L607.08,211.18 L607.93,210.82 L608.78,210.46 L609.63,210.11 L610.48,209.76 L611.32,209.41 L612.17,209.06 L613.02,208.72 L613.87,208.38 L614.72,208.04 L615.57,207.70 L616.42,207.37 L617.26,207.05 L618.11,206.73 L618.96,206.41 L619.60,206.17 M625.75,204.04 L626.60,203.77 L627.45,203.50 L628.30,203.24 L629.15,202.99 L630.00,202.74 L630.84,202.50 L631.69,202.27 L632.54,202.04 L633.39,201.82 L634.24,201.61 L635.09,201.41 L635.94,201.21 L636.79,201.02 L637.63,200.84 L638.48,200.67 L639.33,200.50 L640.18,200.34 L641.03,200.19 L641.88,200.05 L642.73,199.92 L643.36,199.82 M649.73,199.15 L650.58,199.10 L651.43,199.05 L652.28,199.02 L653.12,199.00 L653.97,198.98 L654.82,198.97 L655.67,198.98 L656.52,198.99 L657.37,199.01 L658.22,199.04 L659.06,199.08 L659.91,199.13 L660.76,199.19 L661.61,199.25 L662.46,199.33 L663.31,199.41 L664.16,199.50 L665.01,199.61 L665.85,199.72 L666.70,199.84 L667.34,199.93 M673.49,201.09 L674.34,201.28 L675.19,201.48 L676.04,201.69 L676.89,201.90 L677.74,202.12 L678.59,202.35 L679.43,202.59 L680.28,202.83 L681.13,203.08 L681.98,203.34 L682.83,203.60 L683.68,203.87 L684.53,204.14 L685.38,204.42 L686.22,204.70 L687.07,204.99 L687.92,205.29 L688.77,205.59 L689.62,205.90 L690.47,206.21 L691.10,206.44 M697.26,208.84 L698.11,209.18 L698.96,209.53 L699.80,209.88 L700.65,210.24 L701.50,210.59 L702.35,210.95 L703.20,211.31 L704.05,211.67 L704.90,212.04 L705.75,212.40 L706.59,212.77 L707.44,213.14 L708.29,213.51 L709.14,213.88 L709.99,214.25 L710.84,214.62 L711.69,214.99 L712.53,215.37 L713.38,215.74 L714.23,216.11 L714.87,216.40 M721.23,219.19 L722.08,219.56 L722.93,219.92 L723.78,220.29 L724.63,220.66 L725.48,221.02 L726.33,221.38 L727.18,221.74 L728.02,222.10 L728.87,222.46 L729.72,222.82 L730.57,223.17 L731.42,223.52 L732.27,223.87 L733.12,224.22 L733.97,224.56 L734.81,224.91 L735.66,225.25 L736.51,225.59 L737.36,225.92 L738.21,226.26 L738.85,226.51 M745.00,228.83 L745.85,229.14 L746.70,229.45 L747.55,229.75 L748.39,230.05 L749.24,230.35 L750.09,230.64 L750.94,230.94 L751.79,231.22 L752.64,231.51 L753.27,231.72" fill="none" stroke="#52f052" stroke-width="1.25"/>
<path d="M435.0,5.0 H775.4 V250.5 H435.0 Z" fill="none" stroke="#555" stroke-width="1.3"/>
<line x1="431.2" y1="250.50" x2="435.0" y2="250.50" stroke="#333" stroke-width="1.1"/>
<text x="427.3" y="254.3" font-family="Liberation Sans, sans-serif" font-size="10.5" text-anchor="end" fill="#111">0.0</text>
<line x1="431.2" y1="201.40" x2="435.0" y2="201.40" stroke="#333" stroke-width="1.1"/>
<text x="427.3" y="205.2" font-family="Liberation Sans, sans-serif" font-size="10.5" text-anchor="end" fill="#111">0.1</text>
<line x1="431.2" y1="152.30" x2="435.0" y2="152.30" stroke="#333" stroke-width="1.1"/>
<text x="427.3" y="156.1" font-family="Liberation Sans, sans-serif" font-size="10.5" text-anchor="end" fill="#111">0.2</text>
<line x1="431.2" y1="103.20" x2="435.0" y2="103.20" stroke="#333" stroke-width="1.1"/>
<text x="427.3" y="107.0" font-family="Liberation Sans, sans-serif" font-size="10.5" text-anchor="end" fill="#111">0.3</text>
<line x1="431.2" y1="54.10" x2="435.0" y2="54.10" stroke="#333" stroke-width="1.1"/>
<text x="427.3" y="57.9" font-family="Liberation Sans, sans-serif" font-size="10.5" text-anchor="end" fill="#111">0.4</text>
<line x1="431.2" y1="5.00" x2="435.0" y2="5.00" stroke="#333" stroke-width="1.1"/>
<text x="427.3" y="8.8" font-family="Liberation Sans, sans-serif" font-size="10.5" text-anchor="end" fill="#111">0.5</text>
<line x1="435.00" y1="250.5" x2="435.00" y2="253.6" stroke="#333" stroke-width="1.1"/>
<text x="435.00" y="266.6" font-family="Liberation Sans, sans-serif" font-size="10.5" text-anchor="middle" fill="#111">0</text>
<line x1="472.82" y1="250.5" x2="472.82" y2="253.6" stroke="#333" stroke-width="1.1"/>
<text x="472.82" y="266.6" font-family="Liberation Sans, sans-serif" font-size="10.5" text-anchor="middle" fill="#111">20</text>
<line x1="510.64" y1="250.5" x2="510.64" y2="253.6" stroke="#333" stroke-width="1.1"/>
<text x="510.64" y="266.6" font-family="Liberation Sans, sans-serif" font-size="10.5" text-anchor="middle" fill="#111">40</text>
<line x1="548.47" y1="250.5" x2="548.47" y2="253.6" stroke="#333" stroke-width="1.1"/>
<text x="548.47" y="266.6" font-family="Liberation Sans, sans-serif" font-size="10.5" text-anchor="middle" fill="#111">60</text>
<line x1="586.29" y1="250.5" x2="586.29" y2="253.6" stroke="#333" stroke-width="1.1"/>
<text x="586.29" y="266.6" font-family="Liberation Sans, sans-serif" font-size="10.5" text-anchor="middle" fill="#111">80</text>
<line x1="624.11" y1="250.5" x2="624.11" y2="253.6" stroke="#333" stroke-width="1.1"/>
<text x="624.11" y="266.6" font-family="Liberation Sans, sans-serif" font-size="10.5" text-anchor="middle" fill="#111">100</text>
<line x1="661.93" y1="250.5" x2="661.93" y2="253.6" stroke="#333" stroke-width="1.1"/>
<text x="661.93" y="266.6" font-family="Liberation Sans, sans-serif" font-size="10.5" text-anchor="middle" fill="#111">120</text>
<line x1="699.76" y1="250.5" x2="699.76" y2="253.6" stroke="#333" stroke-width="1.1"/>
<text x="699.76" y="266.6" font-family="Liberation Sans, sans-serif" font-size="10.5" text-anchor="middle" fill="#111">140</text>
<line x1="737.58" y1="250.5" x2="737.58" y2="253.6" stroke="#333" stroke-width="1.1"/>
<text x="737.58" y="266.6" font-family="Liberation Sans, sans-serif" font-size="10.5" text-anchor="middle" fill="#111">160</text>
<line x1="775.40" y1="250.5" x2="775.40" y2="253.6" stroke="#333" stroke-width="1.1"/>
<text x="775.40" y="266.6" font-family="Liberation Sans, sans-serif" font-size="10.5" text-anchor="middle" fill="#111">180</text>
<text x="579.4" y="284" font-family="Liberation Sans, sans-serif" font-size="14.5" fill="#111">Time [h]</text>
<text transform="translate(403.5,160.3) rotate(-90)" font-family="Liberation Sans, sans-serif" font-size="14.5" fill="#111">Qp [g/L*h]</text>
<text x="397.3" y="13.6" font-family="Liberation Sans, sans-serif" font-weight="bold" font-size="16" fill="#000">b</text>
<rect x="435.3" y="290" width="176.9" height="56.3" fill="none" stroke="#6a6a6a" stroke-width="1.6"/>
<path d="M444.5,304.8 H462.2 M468.4,304.8 H486.1 M492.3,304.8 H510" stroke="#ff5252" stroke-width="1.9" fill="none" opacity="0.75"/>
<text x="532.3" y="308.6" font-family="Liberation Sans, sans-serif" font-size="10.9" fill="#111">Glucose</text>
<path d="M444.5,318.1 H462.2 M468.4,318.1 H486.1 M492.3,318.1 H510" stroke="#5252ff" stroke-width="1.9" fill="none" opacity="0.75"/>
<text x="530.7" y="321.6" font-family="Liberation Sans, sans-serif" font-size="10.9" fill="#111">Glucose/Xylose</text>
<path d="M444.5,330.8 H462.2 M468.4,330.8 H486.1 M492.3,330.8 H510" stroke="#52f052" stroke-width="1.9" fill="none" opacity="0.75"/>
<text x="531.6" y="334.6" font-family="Liberation Sans, sans-serif" font-size="10.9" fill="#111">Cellobiose</text>
</svg>
</body></html>
